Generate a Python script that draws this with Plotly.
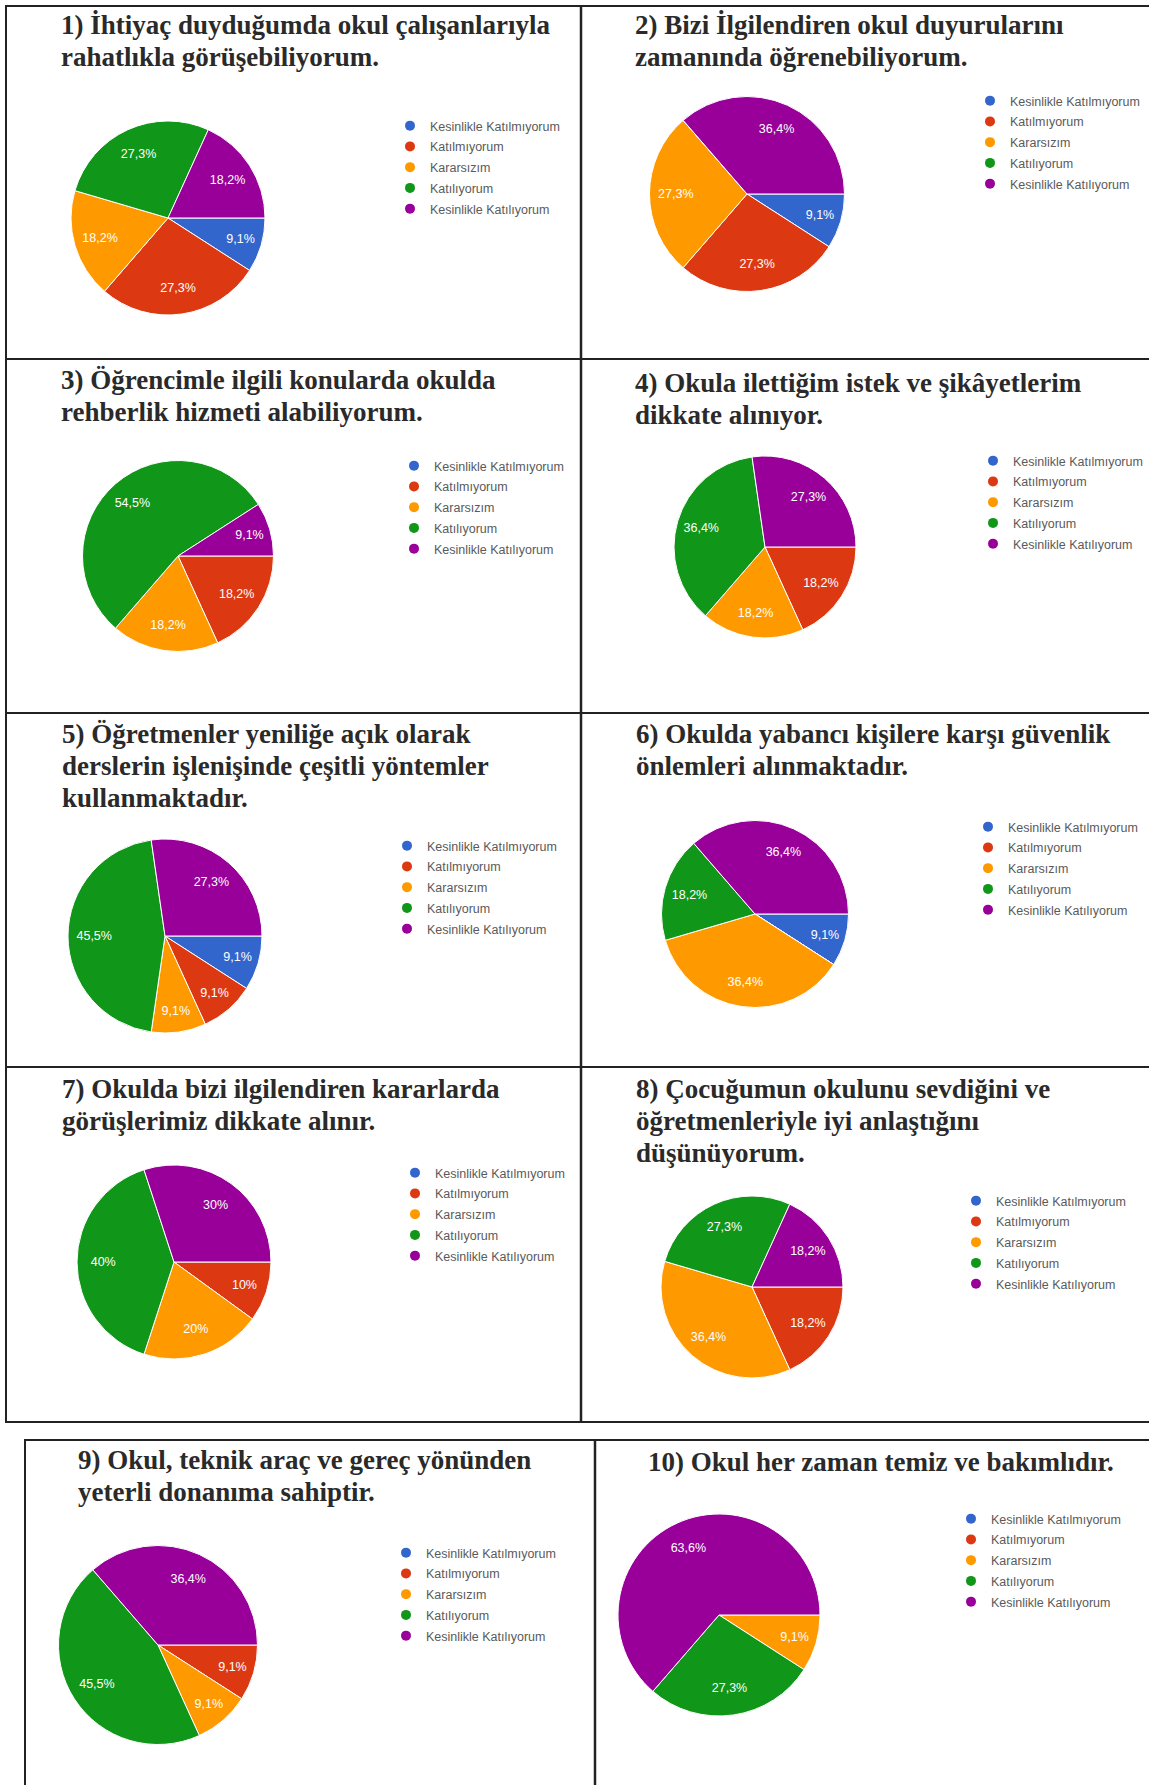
import plotly.graph_objects as go

W, H = 1149, 1785

# ---------------- data ----------------
categories = ["Kesinlikle Katılmıyorum", "Katılmıyorum", "Kararsızım",
              "Katılıyorum", "Kesinlikle Katılıyorum"]
colors = ["#3366CC", "#DC3912", "#FF9900", "#109618", "#990099"]

titles = [
    "1) İhtiyaç duyduğumda okul çalışanlarıyla<br>rahatlıkla görüşebiliyorum.",
    "2) Bizi İlgilendiren okul duyurularını<br>zamanında öğrenebiliyorum.",
    "3) Öğrencimle ilgili konularda okulda<br>rehberlik hizmeti alabiliyorum.",
    "4) Okula ilettiğim istek ve şikâyetlerim<br>dikkate alınıyor.",
    "5) Öğretmenler yeniliğe açık olarak<br>derslerin işlenişinde çeşitli yöntemler<br>kullanmaktadır.",
    "6) Okulda yabancı kişilere karşı güvenlik<br>önlemleri alınmaktadır.",
    "7) Okulda bizi ilgilendiren kararlarda<br>görüşlerimiz dikkate alınır.",
    "8) Çocuğumun okulunu sevdiğini ve<br>öğretmenleriyle iyi anlaştığını<br>düşünüyorum.",
    "9) Okul, teknik araç ve gereç yönünden<br>yeterli donanıma sahiptir.",
    "10) Okul her zaman temiz ve bakımlıdır.",
]

q1 = [1, 3, 2, 3, 2]
q2 = [1, 3, 3, 0, 4]
q3 = [0, 2, 2, 6, 1]
q4 = [0, 2, 2, 4, 3]
q5 = [1, 1, 1, 5, 3]
q6 = [1, 0, 4, 2, 4]
q7 = [0, 1, 2, 4, 3]
q8 = [0, 2, 4, 3, 2]
q9 = [0, 1, 1, 5, 4]
q10 = [0, 0, 1, 3, 7]
series = [q1, q2, q3, q4, q5, q6, q7, q8, q9, q10]

# ---------------- layout geometry (pixels) ----------------
title_pos = [(59, 25), (633, 25), (59, 380), (633, 383), (60, 734),
             (634, 734), (60, 1089), (634, 1089), (76, 1460), (646, 1462)]
line_gap = 32
pie_center = [(168, 218), (747, 194), (178, 556), (765, 547), (165, 936),
              (755, 914), (174, 1262), (752, 1287), (158, 1645), (719, 1615)]
pie_diam = [194, 195, 191, 182, 194, 187, 194, 182, 199, 202]
legend_pos = [(414, 126), (994, 101), (418, 466), (997, 461), (411, 846),
              (992, 827), (419, 1173), (980, 1201), (410, 1553), (975, 1519)]


def fx(x):
    return x / W


def fy(y):
    return 1 - y / H


def pct_text(vals):
    tot = sum(vals)
    out = []
    for v in vals:
        if v == 0:
            out.append("")
            continue
        p = round(v / tot * 100, 1)
        s = ("%.1f" % p).rstrip("0").rstrip(".")
        out.append(s.replace(".", ",") + "%")
    return out


fig = go.Figure()
layout_legends = {}
annotations = []

for i, vals in enumerate(series):
    cx, cy = pie_center[i]
    r = pie_diam[i] / 2
    dom = dict(x=[fx(cx - r), fx(cx + r)], y=[fy(cy + r), fy(cy - r)])
    # coloured slices
    fig.add_trace(go.Pie(
        values=vals, labels=categories, sort=False, direction="clockwise",
        rotation=90, marker=dict(colors=colors, line=dict(color="white", width=1)),
        textinfo="none", domain=dom, showlegend=False,
        hoverinfo="label+percent", name="Soru %d" % (i + 1),
    ))
    # percentage labels (ring overlay so labels sit near 0.7 r, as in the original)
    fig.add_trace(go.Pie(
        values=vals, labels=categories, sort=False, direction="clockwise",
        rotation=90, hole=0.46,
        marker=dict(colors=["rgba(0,0,0,0)"] * 5, line=dict(width=0)),
        text=pct_text(vals), textinfo="text", textposition="inside",
        insidetextorientation="horizontal",
        textfont=dict(color="white", size=12.5, family="Arial, Liberation Sans"),
        domain=dom, showlegend=False, hoverinfo="skip",
    ))
    lname = "legend" if i == 0 else "legend%d" % (i + 1)
    for j, cat in enumerate(categories):
        fig.add_trace(go.Scatter(
            x=[None], y=[None], mode="markers", name=cat,
            marker=dict(color=colors[j], size=10, symbol="circle"),
            legend=lname, legendgroup="g%d_%d" % (i, j), showlegend=True,
        ))
    lx, ly = legend_pos[i]
    layout_legends[lname] = dict(
        x=fx(lx - 24), y=fy(ly - 15), xanchor="left", yanchor="top",
        bgcolor="rgba(0,0,0,0)", tracegroupgap=1.5,
        font=dict(family="Arial, Liberation Sans", size=12.5, color="#5a5a5a"),
        itemclick=False, itemdoubleclick=False,
    )
    tx, ty = title_pos[i]
    for k, line in enumerate(titles[i].split("<br>")):
        annotations.append(dict(
            text=line, x=fx(tx), y=fy(ty + k * line_gap), xref="paper", yref="paper",
            xanchor="left", yanchor="middle", align="left", showarrow=False,
            font=dict(family="Liberation Serif", size=27, color="#2a2a2a", weight=700),
        ))

# table borders
lines = []
bc = "#222222"


def hline(x0, x1, y, w=2):
    lines.append(dict(type="line", xref="paper", yref="paper",
                      x0=fx(x0), x1=fx(x1), y0=fy(y), y1=fy(y),
                      line=dict(color=bc, width=w)))


def vline(x, y0, y1, w=2):
    lines.append(dict(type="line", xref="paper", yref="paper",
                      x0=fx(x), x1=fx(x), y0=fy(y0), y1=fy(y1),
                      line=dict(color=bc, width=w)))


for y in [6, 359, 713, 1067, 1422]:
    hline(5, W, y)
vline(6, 5, 1423)
vline(581, 5, 1423, 2.5)
hline(24, W, 1440)
vline(25, 1439, H)
vline(595, 1439, H, 2.5)

fig.update_layout(
    width=W, height=H, margin=dict(l=0, r=0, t=0, b=0, pad=0, autoexpand=False),
    paper_bgcolor="white", plot_bgcolor="white",
    xaxis=dict(visible=False), yaxis=dict(visible=False),
    annotations=annotations, shapes=lines, hovermode=False,
    uniformtext=dict(minsize=12.5, mode="show"),
    **layout_legends,
)

fig.write_html("out.html",
               config={"displayModeBar": False, "staticPlot": False},
               post_script="document.body.style.margin='0px';document.body.style.overflow='hidden';")
